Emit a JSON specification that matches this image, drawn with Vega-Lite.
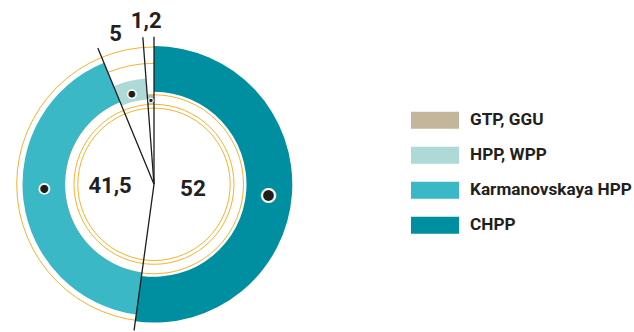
{
  "$schema": "https://vega.github.io/schema/vega-lite/v6.json",
  "autosize": {"type": "none"},
  "width": 300,
  "height": 294,
  "padding": {"left": 4, "top": 37.3, "right": 330, "bottom": 0.7},
  "background": "white",
  "config": {"view": {"stroke": null}},
  "data": {"values": [
    {"source": "CHPP", "value": 52, "label": "52"},
    {"source": "Karmanovskaya HPP", "value": 41.5, "label": "41,5"},
    {"source": "HPP, WPP", "value": 5, "label": "5"},
    {"source": "GTP, GGU", "value": 1.2, "label": "1,2"}
  ]},
  "layer": [
    {"data": {"values": [{}]}, "mark": {"type": "arc", "theta": 0, "theta2": 6.2832, "radius": 137.3, "radius2": 0, "filled": false, "stroke": "#f7b12d", "strokeWidth": 1}, "encoding": {}},
    {"data": {"values": [{}]}, "mark": {"type": "arc", "theta": 0, "theta2": 6.2832, "radius": 121, "radius2": 0, "filled": false, "stroke": "#f7b12d", "strokeWidth": 1}, "encoding": {}},
    {"data": {"values": [{}]}, "mark": {"type": "arc", "theta": 0, "theta2": 6.2832, "radius": 89.5, "radius2": 0, "filled": false, "stroke": "#f7b12d", "strokeWidth": 1}, "encoding": {}},
    {"data": {"values": [{}]}, "mark": {"type": "arc", "theta": 0, "theta2": 6.2832, "radius": 80, "radius2": 0, "filled": false, "stroke": "#f7b12d", "strokeWidth": 1}, "encoding": {}},
    {"data": {"values": [{}]}, "mark": {"type": "arc", "theta": 0, "theta2": 6.2832, "radius": 76.2, "radius2": 0, "filled": false, "stroke": "#f7b12d", "strokeWidth": 1}, "encoding": {}},
    {
      "transform": [
        {"stack": "value", "groupby": [], "sort": [{"field": "value", "order": "descending"}], "as": ["v0", "v1"]},
        {"filter": "datum.source === 'CHPP'"}
      ],
      "mark": {"type": "arc", "radius": 138.3, "radius2": 92.5},
      "encoding": {
        "theta": {"field": "v0", "type": "quantitative"},
        "theta2": {"field": "v1"},
        "color": {"field": "source", "type": "nominal",
          "scale": {"domain": ["GTP, GGU", "HPP, WPP", "Karmanovskaya HPP", "CHPP"], "range": ["#c4b69b", "#add9d7", "#3ab8c5", "#008fa0"]},
          "legend": {"title": null, "orient": "none", "legendX": 407, "legendY": 59, "symbolType": "M-1,-0.354H1V0.354H-1Z", "symbolSize": 2304, "symbolStrokeWidth": 0, "symbolOpacity": 1, "labelFont": "Roboto", "labelFontWeight": "bold", "labelFontSize": 17.2, "labelColor": "#231f20", "labelOffset": 11, "labelLimit": 300, "rowPadding": 2}}
      }
    },
    {
      "transform": [
        {"stack": "value", "groupby": [], "sort": [{"field": "value", "order": "descending"}], "as": ["v0", "v1"]},
        {"filter": "datum.source === 'Karmanovskaya HPP'"}
      ],
      "mark": {"type": "arc", "radius": 131.5, "radius2": 89},
      "encoding": {
        "theta": {"field": "v0", "type": "quantitative"},
        "theta2": {"field": "v1"},
        "color": {"field": "source", "type": "nominal",
          "scale": {"domain": ["GTP, GGU", "HPP, WPP", "Karmanovskaya HPP", "CHPP"], "range": ["#c4b69b", "#add9d7", "#3ab8c5", "#008fa0"]},
          "legend": {"title": null, "orient": "none", "legendX": 407, "legendY": 59, "symbolType": "M-1,-0.354H1V0.354H-1Z", "symbolSize": 2304, "symbolStrokeWidth": 0, "symbolOpacity": 1, "labelFont": "Roboto", "labelFontWeight": "bold", "labelFontSize": 17.2, "labelColor": "#231f20", "labelOffset": 11, "labelLimit": 300, "rowPadding": 2}}
      }
    },
    {
      "transform": [
        {"stack": "value", "groupby": [], "sort": [{"field": "value", "order": "descending"}], "as": ["v0", "v1"]},
        {"filter": "datum.source === 'HPP, WPP'"}
      ],
      "mark": {"type": "arc", "radius": 106, "radius2": 85},
      "encoding": {
        "theta": {"field": "v0", "type": "quantitative"},
        "theta2": {"field": "v1"},
        "color": {"field": "source", "type": "nominal",
          "scale": {"domain": ["GTP, GGU", "HPP, WPP", "Karmanovskaya HPP", "CHPP"], "range": ["#c4b69b", "#add9d7", "#3ab8c5", "#008fa0"]},
          "legend": {"title": null, "orient": "none", "legendX": 407, "legendY": 59, "symbolType": "M-1,-0.354H1V0.354H-1Z", "symbolSize": 2304, "symbolStrokeWidth": 0, "symbolOpacity": 1, "labelFont": "Roboto", "labelFontWeight": "bold", "labelFontSize": 17.2, "labelColor": "#231f20", "labelOffset": 11, "labelLimit": 300, "rowPadding": 2}}
      }
    },
    {
      "transform": [
        {"stack": "value", "groupby": [], "sort": [{"field": "value", "order": "descending"}], "as": ["v0", "v1"]},
        {"filter": "datum.source === 'GTP, GGU'"}
      ],
      "mark": {"type": "arc", "radius": 90, "radius2": 80.5},
      "encoding": {
        "theta": {"field": "v0", "type": "quantitative"},
        "theta2": {"field": "v1"},
        "color": {"field": "source", "type": "nominal",
          "scale": {"domain": ["GTP, GGU", "HPP, WPP", "Karmanovskaya HPP", "CHPP"], "range": ["#c4b69b", "#add9d7", "#3ab8c5", "#008fa0"]},
          "legend": {"title": null, "orient": "none", "legendX": 407, "legendY": 59, "symbolType": "M-1,-0.354H1V0.354H-1Z", "symbolSize": 2304, "symbolStrokeWidth": 0, "symbolOpacity": 1, "labelFont": "Roboto", "labelFontWeight": "bold", "labelFontSize": 17.2, "labelColor": "#231f20", "labelOffset": 11, "labelLimit": 300, "rowPadding": 2}}
      }
    },
    {
      "transform": [
        {"stack": "value", "groupby": [], "sort": [{"field": "value", "order": "descending"}], "as": ["v0", "v1"]}
      ],
      "mark": {"type": "arc", "radius": 147.5, "radius2": 0, "filled": false, "stroke": "#1d1d1b", "strokeWidth": 1.3},
      "encoding": {
        "theta": {"field": "v0", "type": "quantitative"},
        "theta2": {"field": "v0"}
      }
    },
    {
      "mark": {"type": "text", "radius": 114.8, "thetaOffset": 0.024, "font": "DejaVu Sans", "fontSize": 17, "fill": "#1d1d1b", "stroke": "white", "strokeWidth": 2, "baseline": "middle", "align": "center"},
      "encoding": {
        "theta": {"field": "value", "type": "quantitative", "stack": true},
        "order": {"field": "value", "type": "quantitative", "sort": "descending"},
        "text": {"condition": {"test": "datum.source === 'CHPP'", "value": "●"}, "value": ""}
      }
    },
    {
      "mark": {"type": "text", "radius": 109.8, "thetaOffset": 0.09, "font": "DejaVu Sans", "fontSize": 13, "fill": "#1d1d1b", "stroke": "white", "strokeWidth": 1.6, "baseline": "middle", "align": "center"},
      "encoding": {
        "theta": {"field": "value", "type": "quantitative", "stack": true},
        "order": {"field": "value", "type": "quantitative", "sort": "descending"},
        "text": {"condition": {"test": "datum.source === 'Karmanovskaya HPP'", "value": "●"}, "value": ""}
      }
    },
    {
      "mark": {"type": "text", "radius": 92.7, "thetaOffset": -0.01, "font": "DejaVu Sans", "fontSize": 11, "fill": "#1d1d1b", "stroke": "white", "strokeWidth": 1.4, "baseline": "middle", "align": "center"},
      "encoding": {
        "theta": {"field": "value", "type": "quantitative", "stack": true},
        "order": {"field": "value", "type": "quantitative", "sort": "descending"},
        "text": {"condition": {"test": "datum.source === 'HPP, WPP'", "value": "●"}, "value": ""}
      }
    },
    {
      "mark": {"type": "text", "radius": 84.4, "font": "DejaVu Sans", "fontSize": 6, "fill": "#1d1d1b", "stroke": "white", "strokeWidth": 1, "baseline": "middle", "align": "center"},
      "encoding": {
        "theta": {"field": "value", "type": "quantitative", "stack": true},
        "order": {"field": "value", "type": "quantitative", "sort": "descending"},
        "text": {"condition": {"test": "datum.source === 'GTP, GGU'", "value": "●"}, "value": ""}
      }
    },
    {
      "mark": {"type": "text", "radius": 39.3, "thetaOffset": 0.052, "font": "Roboto", "fontWeight": "bold", "fontSize": 22.5, "fill": "#231f20", "baseline": "middle", "align": "center"},
      "encoding": {
        "theta": {"field": "value", "type": "quantitative", "stack": true},
        "order": {"field": "value", "type": "quantitative", "sort": "descending"},
        "text": {"condition": {"test": "datum.source === 'CHPP'", "field": "label"}, "value": ""}
      }
    },
    {
      "mark": {"type": "text", "radius": 44, "thetaOffset": 0.089, "font": "Roboto", "fontWeight": "bold", "fontSize": 22, "fill": "#231f20", "baseline": "middle", "align": "center"},
      "encoding": {
        "theta": {"field": "value", "type": "quantitative", "stack": true},
        "order": {"field": "value", "type": "quantitative", "sort": "descending"},
        "text": {"condition": {"test": "datum.source === 'Karmanovskaya HPP'", "field": "label"}, "value": ""}
      }
    },
    {
      "mark": {"type": "text", "radius": 155.2, "thetaOffset": -0.017, "font": "Roboto", "fontWeight": "bold", "fontSize": 22, "fill": "#231f20", "baseline": "middle", "align": "center"},
      "encoding": {
        "theta": {"field": "value", "type": "quantitative", "stack": true},
        "order": {"field": "value", "type": "quantitative", "sort": "descending"},
        "text": {"condition": {"test": "datum.source === 'HPP, WPP'", "field": "label"}, "value": ""}
      }
    },
    {
      "mark": {"type": "text", "radius": 163.5, "thetaOffset": -0.01, "font": "Roboto", "fontWeight": "bold", "fontSize": 22, "fill": "#231f20", "baseline": "middle", "align": "center"},
      "encoding": {
        "theta": {"field": "value", "type": "quantitative", "stack": true},
        "order": {"field": "value", "type": "quantitative", "sort": "descending"},
        "text": {"condition": {"test": "datum.source === 'GTP, GGU'", "field": "label"}, "value": ""}
      }
    }
  ]
}
